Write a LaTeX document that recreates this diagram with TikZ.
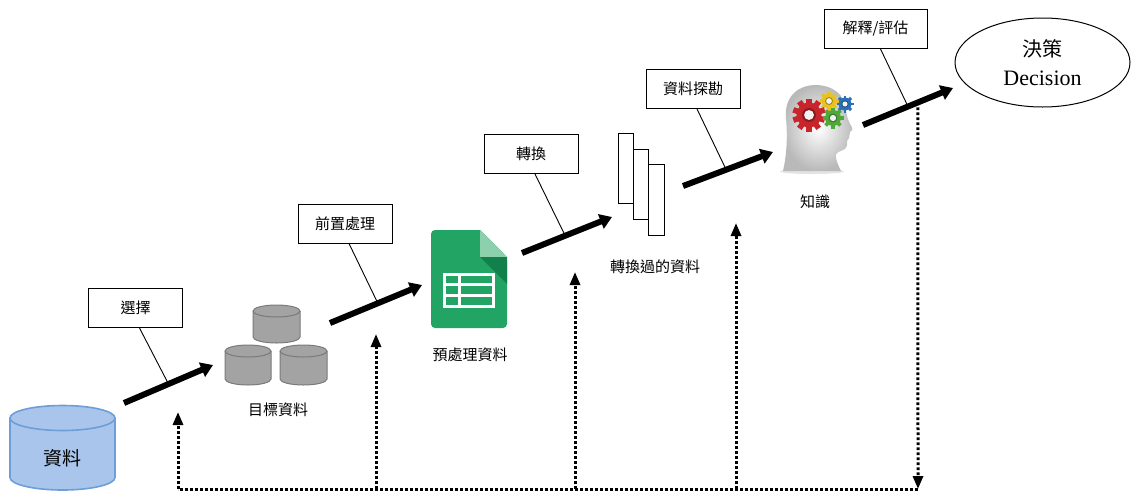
\documentclass[tikz,border=0pt]{standalone}
\usepackage{fontspec}
\setmainfont{Liberation Serif}
\newfontfamily\cjk{Noto Sans CJK TC}
\usetikzlibrary{arrows.meta,calc,shapes.geometric}

\definecolor{dbfill}{HTML}{A9C5EB}
\definecolor{dbline}{HTML}{6E9ED8}
\definecolor{drumfill}{HTML}{A3A3A3}
\definecolor{drumline}{HTML}{7A7A7A}
\definecolor{sheetgreen}{HTML}{21A464}
\definecolor{sheetfold}{HTML}{8DD0AE}
\definecolor{sheetshade}{HTML}{11804A}
\definecolor{gearred}{HTML}{C8242B}
\definecolor{gearyellow}{HTML}{E8C21E}
\definecolor{gearblue}{HTML}{2A6FB8}
\definecolor{geargreen}{HTML}{4FA83A}

% cylinder: #1 centre x, #2 top rim y, #3 bottom rim y, #4 x radius, #5 y radius, #6 style
\newcommand\drum[6]{%
  \path[#6] (#1-#4,#2) -- (#1-#4,#3)
     arc[start angle=180,end angle=0,x radius=#4,y radius=#5] -- (#1+#4,#2)
     arc[start angle=0,end angle=-180,x radius=#4,y radius=#5] -- cycle;
  \path[#6,fill=none] (#1-#4,#2) arc[start angle=180,end angle=0,x radius=#4,y radius=#5];}

% gear: #1 x, #2 y, #3 outer radius, #4 number of teeth, #5 colour
\newcommand\gear[5]{%
  \begin{scope}[shift={(#1,#2)}]
    \fill[#5] (0,0) circle[radius=0.76*#3];
    \foreach \k in {1,...,#4}{\fill[#5,rotate=\k*360/#4] (-0.17*#3,0) rectangle (0.17*#3,#3);}
    \fill[#5!70!black] (0,0) circle[radius=0.42*#3];
    \fill[white!90!gray] (0,0) circle[radius=0.3*#3];
  \end{scope}}

\tikzset{
  callout/.style={draw, line width=1pt, fill=white, minimum width=94pt, minimum height=39pt,
    inner sep=0pt, font=\cjk\fontsize{15}{15}\selectfont},
  leader/.style={line width=0.9pt},
  bigarrow/.style={line width=6pt, -{Triangle[length=12pt,width=15pt]}},
  feedback/.style={line width=3pt, dash pattern=on 2.6pt off 2.4pt},
  fbtip/.style={-{Triangle[length=13pt,width=10pt]}},
  caption/.style={font=\cjk\fontsize{15}{15}\selectfont, inner sep=0pt},
  strip/.style={draw, line width=1pt, fill=white, inner sep=0pt},
}

\begin{document}
\begin{tikzpicture}[x=1pt,y=-1pt]
\useasboundingbox[fill=white] (0,0) rectangle (1131,493);

% ---- source database ----
\drum{62.5}{418}{477.5}{52.5}{12.5}{draw=dbline, fill=dbfill, line width=1.6pt}
\node[font=\cjk\fontsize{19}{19}\selectfont] (data) at (62,458) {資料};

% ---- target data (three drums) ----
\drum{276.5}{311}{337}{23.5}{6}{draw=drumline, fill=drumfill, line width=1pt}
\drum{248}{351}{379}{23}{6}{draw=drumline, fill=drumfill, line width=1pt}
\drum{303.5}{351}{379}{23.5}{6}{draw=drumline, fill=drumfill, line width=1pt}
\node[caption] (target) at (278,410) {目標資料};

% ---- preprocessed data (spreadsheet) ----
\node[minimum width=76pt, minimum height=98pt, inner sep=0pt] (sheet) at (469,279) {};
\fill[sheetgreen, rounded corners=4pt] (480,230) -- (431,230) -- (431,328) -- (507,328) -- (507,257) [sharp corners] -- (480,230) -- cycle;
\fill[sheetfold] (480,230) -- (480,257) -- (507,257) -- cycle;
\fill[sheetshade] (480,257) -- (507,257) -- (507,284) -- cycle;
\draw[white, line width=3pt] (444,274) rectangle (493,306);
\draw[white, line width=3pt] (459,274) -- (459,306) (444,284.7) -- (493,284.7) (444,295.3) -- (493,295.3);
\node[caption] (prep) at (470,355) {預處理資料};

% ---- transformed data (stepped strips) ----
\node[strip, minimum width=15pt, minimum height=70pt] (s1) at (625.5,168) {};
\node[strip, minimum width=15pt, minimum height=70pt] (s2) at (640.5,184) {};
\node[strip, minimum width=16pt, minimum height=71pt] (s3) at (656,199.5) {};
\node[caption] (trans) at (655,267) {轉換過的資料};

% ---- knowledge (head with gears) ----
\node[minimum width=71pt, minimum height=87pt, inner sep=0pt] (head) at (817,128) {};
\fill[gray!22] (812,171.5) ellipse[x radius=32, y radius=2.5];
\shade[inner color=white, outer color=gray!55]
  (783,171) .. controls (786,158) and (788,140) .. (786,118)
  .. controls (784,95) and (800,85) .. (815,85)
  .. controls (833,85) and (845,95) .. (846,110)
  .. controls (847,117) and (848,120) .. (850,124)
  .. controls (852,127) and (854,130) .. (850,132)
  .. controls (849,135) and (850,138) .. (847,141)
  .. controls (848,145) and (846,149) .. (843,150)
  .. controls (838,152) and (835,153) .. (836,158)
  .. controls (837,163) and (839,167) .. (841,171) -- cycle;
\gear{829}{101}{9.5}{8}{gearyellow}
\gear{845}{104}{8.5}{8}{gearblue}
\gear{809}{115}{16.5}{10}{gearred}
\gear{833}{118}{10.5}{8}{geargreen}
\node[caption] (know) at (815,202) {知識};

% ---- decision ----
\node[draw, ellipse, line width=1pt, minimum width=175pt, minimum height=89pt, inner sep=0pt,
      align=center, font=\fontsize{22}{29}\selectfont] (dec) at (1042.5,62.5)
      {{\cjk\fontsize{20}{29}\selectfont 決策}\\Decision};

% ---- step labels ----
\node[callout] (c1) at (135.5,308) {選擇};
\node[callout] (c2) at (345,223.5) {前置處理};
\node[callout] (c3) at (531,154) {轉換};
\node[callout] (c4) at (693,89) {資料探勘};
\node[callout, minimum width=103pt] (c5) at (875.5,29) {解釋/評估};

% ---- process arrows ----
\coordinate (a1s) at (124,403); \coordinate (a1e) at (213,365);
\coordinate (a2s) at (330,323); \coordinate (a2e) at (422,285);
\coordinate (a3s) at (522,253); \coordinate (a3e) at (612,217);
\coordinate (a4s) at (683,186); \coordinate (a4e) at (773,152);
\coordinate (a5s) at (863,125); \coordinate (a5e) at (953,88);

\draw[leader] ($(c1.south)+(4,0)$) -- ($(a1s)!0.5!(a1e)$);
\draw[leader] ($(c2.south)+(4,0)$) -- ($(a2s)!0.52!(a2e)$);
\draw[leader] ($(c3.south)+(4,0)$) -- ($(a3s)!0.48!(a3e)$);
\draw[leader] ($(c4.south)+(4,0)$) -- ($(a4s)!0.48!(a4e)$);
\draw[leader] ($(c5.south)+(5,0)$) -- ($(a5s)!0.5!(a5e)$);

% ---- feedback loop ----
\coordinate (fbtop) at ($(a5s)!0.61!(a5e)$);
\coordinate (fbR) at (918,489);
\coordinate (fbL) at (178,489);
\coordinate (b2) at (376,489);
\coordinate (b3) at (575,489);
\coordinate (b4) at (736,489);
\coordinate (u1) at (178,412);
\coordinate (u2) at (376,334);
\coordinate (u3) at (575,272);
\coordinate (u4) at (736,223);
\draw[feedback, fbtip] (fbtop) -- (fbR);
\draw[feedback] (fbR) -- (fbL);
\draw[feedback, fbtip] (fbL) -- (u1);
\draw[feedback, fbtip] (b2) -- (u2);
\draw[feedback, fbtip] (b3) -- (u3);
\draw[feedback, fbtip] (b4) -- (u4);

\draw[bigarrow] (a1s) -- (a1e);
\draw[bigarrow] (a2s) -- (a2e);
\draw[bigarrow] (a3s) -- (a3e);
\draw[bigarrow] (a4s) -- (a4e);
\draw[bigarrow] (a5s) -- (a5e);
\end{tikzpicture}
\end{document}
